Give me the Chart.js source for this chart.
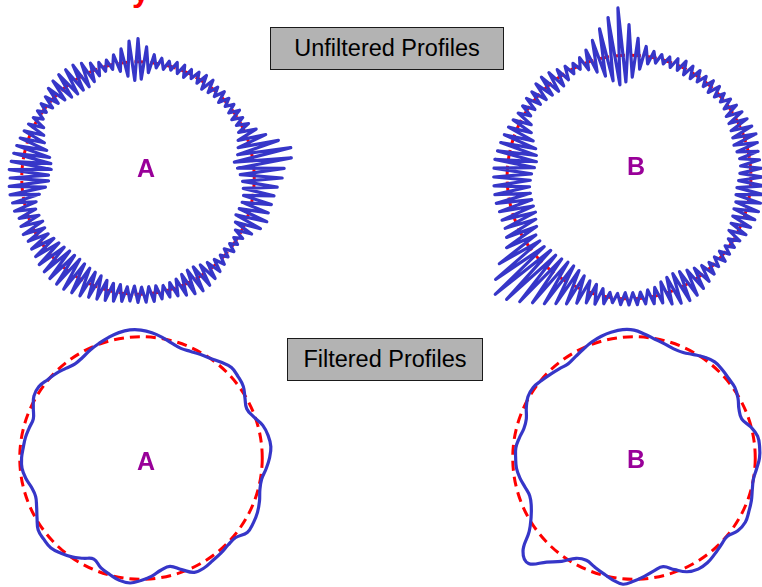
<!DOCTYPE html>
<html>
<head>
<meta charset="utf-8">
<script src="https://cdn.jsdelivr.net/npm/chart.js@4.4.1/dist/chart.umd.min.js"></script>
<style>
  html, body { margin: 0; padding: 0; background: #fff; }
  body { width: 762px; height: 587px; position: relative; overflow: hidden; font-family: 'Liberation Sans', Arial, sans-serif; }
  canvas { position: absolute; }
  .box { position: absolute; background: #b3b3b3; border: 1.5px solid #1a1a1a; box-sizing: border-box; text-align: center; font-size: 23.5px; color: #000; }
  .tag { position: absolute; color: #990099; font-weight: bold; font-size: 25px; line-height: 1; transform: translate(-50%, -50%); }
  .title { position: absolute; color: #ff0000; font-weight: bold; font-size: 32px; line-height: 32px; }
</style>
</head>
<body>
<div class="title" style="left:132px; top:-26px;">y</div>

<canvas id="rawA" width="372" height="372" style="left:-48px; top:-8px;"></canvas>
<canvas id="rawB" width="390" height="390" style="left:434px; top:-18px;"></canvas>
<canvas id="filtA" width="388" height="388" style="left:-53px; top:264px;"></canvas>
<canvas id="filtB" width="388" height="388" style="left:440px; top:264px;"></canvas>

<div class="box" style="left:270px; top:27px; width:234px; height:43px; line-height:40px;">Unfiltered Profiles</div>
<div class="box" style="left:287px; top:338px; width:196px; height:43px; line-height:40px;">Filtered Profiles</div>

<div class="tag" style="left:146px; top:168px;">A</div>
<div class="tag" style="left:636px; top:166px;">B</div>
<div class="tag" style="left:146px; top:461px;">A</div>
<div class="tag" style="left:636px; top:459px;">B</div>

<script>
'use strict';

// radius of the reference (least-squares) circle, in profile units
const REF_RADIUS = 100;

// unfiltered radii, 192 samples clockwise from the top
const rawProfileA = [
  120, 85, 113, 91, 107, 96, 105, 96, 104, 97, 105, 96, 105, 95, 104, 97,
  105, 96, 106, 94, 106, 95, 104, 96, 105, 95, 104, 97, 104, 96, 105, 95,
  104, 96, 106, 95, 110, 92, 116, 90, 125, 88, 134, 84, 133, 86, 126, 88,
  124, 90, 120, 91, 118, 92, 117, 92, 116, 91, 117, 90, 114, 92, 109, 95,
  104, 97, 103, 97, 104, 96, 103, 97, 105, 96, 107, 94, 109, 92, 111, 90,
  112, 90, 111, 91, 109, 93, 107, 94, 106, 95, 106, 94, 107, 94, 107, 94,
  107, 93, 106, 94, 107, 93, 108, 93, 109, 92, 110, 90, 111, 89, 113, 88,
  114, 87, 115, 86, 115, 86, 115, 86, 114, 87, 113, 88, 111, 89, 110, 91,
  109, 91, 110, 90, 109, 91, 108, 92, 110, 90, 110, 86, 111, 80, 111, 77,
  110, 77, 111, 75, 110, 76, 109, 78, 108, 82, 107, 86, 106, 89, 105, 92,
  104, 96, 104, 97, 105, 95, 106, 94, 109, 92, 111, 90, 112, 89, 112, 89,
  112, 89, 110, 91, 107, 94, 105, 96, 105, 96, 108, 93, 112, 88, 118, 84,
];

const rawProfileB = [
  125, 82, 114, 89, 108, 94, 105, 96, 104, 97, 104, 96, 105, 96, 106, 95,
  105, 95, 105, 96, 104, 96, 105, 95, 105, 96, 104, 97, 105, 96, 106, 94,
  107, 93, 108, 92, 109, 91, 110, 90, 109, 91, 108, 92, 108, 92, 109, 91,
  110, 90, 111, 89, 111, 89, 110, 90, 110, 90, 109, 91, 108, 92, 107, 93,
  105, 96, 104, 97, 104, 96, 105, 96, 104, 96, 106, 94, 108, 92, 110, 90,
  112, 88, 113, 87, 112, 88, 110, 90, 107, 93, 106, 94, 105, 95, 105, 95,
  105, 95, 105, 96, 104, 96, 106, 94, 108, 92, 109, 91, 112, 89, 116, 87,
  120, 86, 125, 86, 130, 87, 136, 88, 142, 88, 146, 90, 138, 90, 128, 90,
  116, 86, 112, 84, 110, 82, 110, 82, 110, 82, 111, 82, 111, 82, 111, 81,
  111, 80, 111, 78, 111, 77, 110, 78, 109, 80, 108, 84, 107, 88, 106, 91,
  105, 95, 105, 95, 106, 94, 106, 93, 108, 92, 109, 91, 108, 92, 106, 94,
  105, 96, 104, 97, 106, 94, 110, 90, 116, 85, 124, 80, 132, 76, 139, 78,
];

// filtered radii, 72 samples (every 5 degrees) clockwise from the top
const filteredProfileA = [
  105.5, 103.7, 101, 98, 96.2, 97, 98.5, 100.2, 103, 105.5, 104.5, 103,
  99, 96.2, 99, 104, 106.5, 107.5, 106, 103.5, 101, 101.5, 104, 106,
  107, 107, 102, 101.5, 102.5, 103.2, 104.5, 104, 98, 92.5, 94, 98,
  101, 103.5, 102.5, 99.5, 96.5, 92, 95.5, 99.5, 102.5, 105, 104.5, 103.5,
  99, 95, 92.5, 93.5, 96.5, 98.5, 98.5, 97.5, 96.8, 95.5, 94.5, 98,
  102, 102.8, 100.5, 98.8, 96.5, 94.8, 96, 98.5, 100.7, 103, 105, 106,
];

const filteredProfileB = [
  105.5, 102.5, 99.5, 97.5, 95.8, 96, 98.5, 101.5, 103.5, 103, 102, 101.5,
  99, 95.5, 94.5, 99.5, 103.5, 104, 103.5, 101.5, 100, 101, 103, 104.5,
  106, 104.5, 100.5, 101.5, 103.5, 105.5, 105.8, 103.5, 98, 92.8, 94.5, 98,
  101.5, 104.5, 102, 98.5, 95.5, 93.1, 95.5, 104, 112, 123, 119.5, 105.5,
  98, 93.5, 91.5, 93, 95.5, 97.3, 97.6, 97.8, 96, 94, 94.5, 98,
  101, 101.5, 99.5, 97.6, 96, 94.8, 96.5, 99, 101.8, 104, 105.5, 106.3,
];

const BLUE = '#3636c8';
const RED = '#ff0000';

function drawProfile(id, profile, tension) {
  const angles = profile.map((_, i) => (i * 360 / profile.length).toFixed(2) + '°');
  new Chart(document.getElementById(id), {
    type: 'radar',
    data: {
      labels: angles,
      datasets: [{
        data: profile,
        borderColor: BLUE,
        borderWidth: 3.2,
        borderJoinStyle: 'round',
        borderCapStyle: 'round',
        pointRadius: 0,
        fill: false,
        tension: tension,
        clip: false,
      }],
    },
    options: {
      responsive: false,
      animation: false,
      events: [],
      layout: { padding: 0 },
      plugins: { legend: { display: false }, tooltip: { enabled: false } },
      scales: {
        r: {
          min: 0,
          max: 160,
          startAngle: 0,
          angleLines: { display: false },
          pointLabels: { display: false },
          ticks: { display: false, stepSize: 20 },
          grid: {
            circular: true,
            lineWidth: 3,
            color: c => (c.tick && c.tick.value === REF_RADIUS ? RED : 'rgba(0,0,0,0)'),
          },
          border: { dash: [10, 6] },
        },
      },
    },
  });
}

drawProfile('rawA', rawProfileA, 0);
drawProfile('rawB', rawProfileB, 0);
drawProfile('filtA', filteredProfileA, 0.4);
drawProfile('filtB', filteredProfileB, 0.4);
</script>
</body>
</html>
